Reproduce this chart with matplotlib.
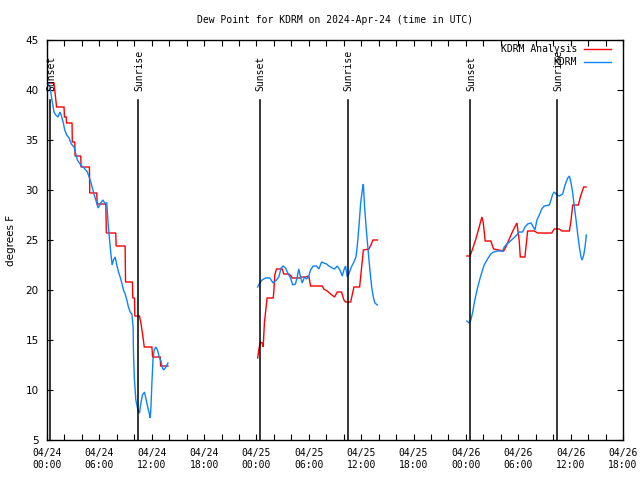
import matplotlib
matplotlib.use("Agg")
import matplotlib.pyplot as plt

# ---- data (hours since 04/24 00:00 UTC, degrees F) ----
red1_t = [0.11, 0.80, 1.10, 1.95, 2.00, 2.20, 2.25, 2.87, 2.90, 3.18, 3.22, 3.87, 3.90, 4.86, 4.90,
          5.70, 5.75, 6.74, 6.80, 7.88, 7.92, 8.95, 9.00, 9.79, 9.83, 10.03, 10.06, 10.60, 10.76,
          11.00, 11.14, 12.02, 12.10, 12.97, 13.02, 13.86]
red1_v = [40.7, 40.7, 38.3, 38.3, 37.3, 37.3, 36.7, 36.7, 34.8, 34.8, 33.4, 33.4, 32.3, 32.3, 29.7,
          29.7, 28.6, 28.6, 25.7, 25.7, 24.4, 24.4, 20.8, 20.8, 19.2, 19.2, 17.4, 17.4, 16.7,
          15.3, 14.3, 14.3, 13.3, 13.3, 12.4, 12.4]

blue1_t = [0.11, 0.34, 0.57, 0.80, 1.00, 1.26, 1.49, 1.66, 1.87, 2.03, 2.26, 2.53, 2.79, 3.10, 3.30,
           3.48, 3.94, 4.25, 4.63, 5.02, 5.32, 5.59, 5.86, 6.17, 6.39, 6.62, 6.85, 7.00, 7.15, 7.31,
           7.46, 7.61, 7.81, 8.00, 8.19, 8.38, 8.58, 8.76, 8.96, 9.15, 9.33, 9.53, 9.72, 9.87, 9.91,
           10.02, 10.18, 10.37, 10.48, 10.60, 10.76, 10.94, 11.17, 11.37, 11.56, 11.71, 11.83, 11.91,
           12.02, 12.14, 12.28, 12.48, 12.66, 12.86, 13.05, 13.20, 13.35, 13.55, 13.74, 13.86]
blue1_v = [40.7, 40.3, 39.0, 37.8, 37.5, 37.3, 37.8, 37.4, 36.7, 36.0, 35.5, 35.2, 34.6, 34.3, 33.6,
           33.0, 32.4, 32.2, 31.8, 30.8, 29.8, 29.0, 28.2, 28.7, 29.0, 28.7, 28.7, 26.7, 25.2, 23.7,
           22.5, 23.0, 23.3, 22.5, 21.8, 21.3, 20.7, 20.0, 19.6, 19.0, 18.3, 17.8, 17.6, 16.3, 13.7,
           11.0, 9.0, 8.2, 7.8, 7.7, 8.7, 9.5, 9.8, 9.0, 8.2, 7.7, 7.2, 8.3,
           10.7, 13.0, 14.0, 14.3, 14.0, 13.3, 12.9, 12.3, 12.0, 12.2, 12.5, 12.7]

red2_t = [24.14, 24.26, 24.45, 24.65, 24.77, 24.91, 25.03, 25.22, 25.91, 25.98, 26.10, 26.29, 26.95,
          27.13, 27.70, 27.98, 28.09, 28.97, 29.05, 29.62, 30.00, 30.20, 31.54, 31.72, 32.11, 32.49,
          32.95, 33.26, 33.75, 34.02, 34.21, 34.79, 35.02, 35.17, 35.82, 36.02, 36.25, 36.89, 37.16,
          37.35, 37.85]
red2_v = [13.2, 14.0, 14.8, 14.7, 14.3, 16.7, 17.7, 19.2, 19.2, 19.7, 21.5, 22.1, 22.1,
          21.6, 21.6, 21.4, 21.2, 21.2, 21.3, 21.3, 21.4, 20.4, 20.4, 20.1, 19.9, 19.6,
          19.3, 19.8, 19.8, 19.0, 18.8, 18.8, 19.7, 20.3, 20.3, 22.0, 24.0, 24.1, 24.6,
          25.0, 25.0]

blue2_t = [24.14, 24.37, 24.65, 25.03, 25.52, 25.91, 26.29, 26.56, 26.83, 27.06, 27.33, 27.59, 27.90,
           28.16, 28.47, 28.67, 28.85, 29.05, 29.24, 29.51, 29.74, 29.97, 30.20, 30.51, 30.88, 31.15,
           31.46, 31.72, 32.03, 32.30, 32.69, 32.95, 33.26, 33.56, 33.83, 34.02, 34.21, 34.41, 34.59,
           34.87, 35.17, 35.40, 35.56, 35.74, 35.94, 36.13, 36.25, 36.39, 36.59, 36.82, 37.00, 37.20,
           37.39, 37.58, 37.85]
blue2_v = [20.3, 20.7, 21.0, 21.2, 21.2, 20.7, 21.0, 21.3, 22.2, 22.4, 22.2, 21.7, 21.2,
           20.5, 20.6, 21.3, 22.1, 21.3, 20.7, 21.3, 21.1, 21.3, 22.0, 22.4, 22.4, 22.1,
           22.8, 22.7, 22.6, 22.4, 22.2, 22.1, 22.4, 22.0, 21.4, 22.0, 22.4, 21.3, 21.6,
           22.3, 22.8, 23.3, 24.5, 26.3, 28.7, 30.0, 30.6, 28.3, 26.0, 23.7, 22.0, 20.3,
           19.3, 18.7, 18.5]

red3_t = [48.11, 48.48, 48.76, 49.14, 49.52, 49.83, 49.98, 50.21, 50.86, 51.17, 52.32, 52.58, 53.16,
          53.54, 53.85, 54.11, 54.23, 54.76, 55.07, 55.83, 56.22, 57.83, 58.13, 58.70, 58.98, 59.86,
          60.05, 60.24, 60.89, 61.11, 61.50, 61.77]
red3_v = [23.4, 23.4, 24.1, 25.1, 26.3, 27.3, 26.8, 24.9, 24.9, 24.1, 23.9, 24.3, 25.5,
          26.2, 26.7, 24.9, 23.3, 23.3, 25.9, 25.9, 25.7, 25.7, 26.1, 26.1, 25.9, 25.9,
          27.0, 28.5, 28.5, 29.3, 30.3, 30.3]

blue3_t = [48.11, 48.37, 48.56, 48.76, 49.02, 49.33, 49.63, 49.91, 50.09, 50.29, 50.55, 50.86, 51.17,
           51.63, 52.20, 52.39, 52.70, 52.96, 53.35, 53.73, 54.11, 54.50, 54.76, 55.07, 55.45, 55.72,
           55.91, 56.14, 56.41, 56.68, 56.98, 57.56, 57.75, 57.95, 58.13, 58.44, 58.70, 59.09, 59.36,
           59.67, 59.86, 60.05, 60.24, 60.43, 60.62, 60.82, 61.00, 61.19, 61.31, 61.50, 61.65, 61.80]
blue3_v = [16.9, 16.7, 17.0, 17.7, 19.0, 20.2, 21.2, 22.0, 22.5, 22.8, 23.2, 23.6, 23.8,
           23.9, 23.9, 24.3, 24.6, 24.8, 25.1, 25.4, 25.8, 25.8, 26.3, 26.6, 26.7, 26.3,
           26.0, 27.0, 27.5, 28.1, 28.4, 28.5, 29.0, 29.6, 29.8, 29.5, 29.4, 29.6, 30.5,
           31.2, 31.4, 30.7, 29.7, 28.3, 27.0, 25.5, 24.3, 23.3, 23.0, 23.5, 24.3, 25.5]

sunset_t = [0.35, 24.38, 48.47]
sunrise_t = [10.48, 34.47, 58.44]

x_tick_pos = [0, 6, 12, 18, 24, 30, 36, 42, 48, 54, 60, 66]
x_tick_labels = ["04/24\n00:00", "04/24\n06:00", "04/24\n12:00", "04/24\n18:00",
                 "04/25\n00:00", "04/25\n06:00", "04/25\n12:00", "04/25\n18:00",
                 "04/26\n00:00", "04/26\n06:00", "04/26\n12:00", "04/26\n18:00"]
y_ticks = [5, 10, 15, 20, 25, 30, 35, 40, 45]

title = "Dew Point for KDRM on 2024-Apr-24 (time in UTC)"
ylabel = "degrees F"
red_name = "KDRM Analysis"
blue_name = "KDRM"

RED = "#ff0000"
BLUE = "#0a84ff"
MONO = "DejaVu Sans Mono"

fig = plt.figure(figsize=(6.4, 4.8), dpi=100)
ax = fig.add_axes([47/640, 1 - 440/480, (623 - 47)/640, 400/480])

for t, v in [(red1_t, red1_v), (red2_t, red2_v), (red3_t, red3_v)]:
    ax.plot(t, v, color=RED, lw=1.0, solid_joinstyle="miter")
for t, v in [(blue1_t, blue1_v), (blue2_t, blue2_v), (blue3_t, blue3_v)]:
    ax.plot(t, v, color=BLUE, lw=1.0, solid_joinstyle="miter")

for t in sunset_t + sunrise_t:
    ax.plot([t, t], [0, 0.85], color="black", lw=1.1, transform=ax.get_xaxis_transform())
for t in sunset_t:
    ax.text(t + 0.1, 0.872, "Sunset", rotation=90, ha="center", va="bottom",
            transform=ax.get_xaxis_transform(), fontsize=7, family=MONO)
for t in sunrise_t:
    ax.text(t + 0.1, 0.872, "Sunrise", rotation=90, ha="center", va="bottom",
            transform=ax.get_xaxis_transform(), fontsize=7, family=MONO)

ax.set_xlim(0, 66)
ax.set_ylim(5, 45)
ax.set_xticks(x_tick_pos)
ax.set_xticklabels(x_tick_labels, family=MONO, fontsize=7, linespacing=1.2)
ax.set_xticks(list(range(0, 67, 2)), minor=True)
ax.set_yticks(y_ticks)
ax.set_yticklabels([str(v) for v in y_ticks], fontsize=7.5)
ax.tick_params(axis="both", which="both", direction="in", top=True, right=True,
               length=4, width=0.8, colors="black")
ax.tick_params(axis="x", which="major", pad=6)
ax.tick_params(axis="y", which="major", pad=6)
for s in ax.spines.values():
    s.set_linewidth(1.0)

fig.text(11/640, 1 - 240/480, ylabel, rotation=90, ha="center", va="center", fontsize=7.5)

fig.text(335/640, 1 - 20/480, title, ha="center", va="center", fontsize=7, family=MONO)

# legend (gnuplot style, top right)
fig.text(577/640, 1 - 49/480, red_name, ha="right", va="center", fontsize=7, family=MONO)
fig.add_artist(plt.Line2D([584/640, 611/640], [1 - 49/480, 1 - 49/480], color=RED, lw=1.0))
fig.text(577/640, 1 - 62/480, blue_name, ha="right", va="center", fontsize=7, family=MONO)
fig.add_artist(plt.Line2D([584/640, 611/640], [1 - 62/480, 1 - 62/480], color=BLUE, lw=1.0))

fig.savefig("out.png", dpi=100)
